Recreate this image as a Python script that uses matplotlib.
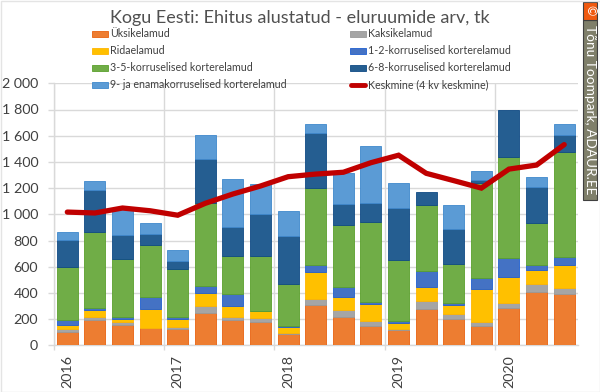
import numpy as np
import matplotlib.pyplot as plt
from matplotlib.patches import Rectangle

W, H = 600, 392

year_labels = ["2016", "2017", "2018", "2019", "2020"]
quarters_per_year = 4

yksik = [102, 196, 153, 132, 122, 247, 191, 181, 84, 308, 214, 148, 117, 277, 201, 148, 287, 405, 394]
kaksik = [23, 18, 25, 3, 18, 53, 23, 30, 10, 43, 56, 35, 5, 61, 41, 30, 36, 63, 46]
rida = [28, 58, 23, 140, 61, 102, 86, 51, 46, 209, 99, 133, 48, 107, 66, 249, 199, 107, 171]
k12 = [40, 10, 13, 97, 13, 51, 92, 1, 8, 51, 76, 15, 13, 122, 15, 87, 147, 36, 61]
k35 = [407, 583, 442, 396, 369, 636, 290, 419, 320, 590, 476, 610, 468, 504, 300, 722, 768, 322, 806]
k68 = [204, 320, 184, 82, 63, 333, 224, 323, 367, 419, 155, 145, 397, 99, 265, 23, 359, 278, 127]
k9 = [59, 69, 193, 84, 82, 182, 363, 224, 193, 69, 242, 435, 191, 0, 181, 72, 0, 72, 84]
keskmine = [1017, 1010, 1048, 1027, 993, 1084, 1155, 1216, 1287, 1307, 1321, 1394, 1451, 1313, 1257, 1200, 1345, 1376, 1532]

series = [
    ("Üksikelamud", yksik, "#ED7D31", "#E8620F"),
    ("Kaksikelamud", kaksik, "#A5A5A5", "#999999"),
    ("Ridaelamud", rida, "#FFC000", "#FFB400"),
    ("1-2-korruselised korterelamud", k12, "#4472C4", "#1F5FD0"),
    ("3-5-korruselised korterelamud", k35, "#70AD47", "#5AA02C"),
    ("6-8-korruselised korterelamud", k68, "#255E91", "#0F4A85"),
    ("9- ja enamakorruselised korterelamud", k9, "#5B9BD5", "#3F88CC"),
]

plt.rcParams['font.family'] = ['Lato', 'DejaVu Sans']
text_col = "#404040"

fig = plt.figure(figsize=(W / 100, H / 100), dpi=100, facecolor="#FFFFFF")
ax = fig.add_axes([53.5 / W, 1 - 345.3 / H, (578 - 53.5) / W, (345.3 - 83.3) / H])

x = np.arange(len(yksik))
bottom = np.zeros(len(yksik))
for name, vals, col, edge in series:
    nonzero = np.array(vals) > 0
    ax.bar(x[nonzero], np.array(vals)[nonzero], 0.76, bottom=bottom[nonzero], color=col, edgecolor=edge,
           linewidth=0.6, zorder=3)
    bottom = bottom + np.array(vals)
ax.plot(x, keskmine, color="#C00000", lw=3.8, solid_capstyle="round", solid_joinstyle="miter", zorder=4)

ax.set_xlim(-0.5, len(yksik) - 0.5)
ax.set_ylim(0, 2000)
ax.set_yticks(range(0, 2001, 200))
ax.set_yticklabels(["0", "200", "400", "600", "800", "1 000", "1 200", "1 400", "1 600", "1 800", "2 000"],
                   fontsize=10.3, color=text_col)
year_pos = np.arange(len(year_labels)) * quarters_per_year - 0.5
ax.set_xticks(year_pos)
ax.set_xticklabels([])
ax.set_xticks(year_pos + 0.5, minor=True)
ax.set_xticklabels(year_labels, minor=True, rotation=90, fontsize=10.3, color=text_col, ha="center", va="top")
ax.tick_params(axis="y", length=4, color="#D9D9D9", width=1, pad=7)
ax.tick_params(axis="x", which="major", length=3.6, color="#D9D9D9", width=1)
ax.tick_params(axis="x", which="minor", length=0, pad=7)
ax.grid(color="#D9D9D9", lw=1, zorder=0)
ax.set_axisbelow(True)
for s in ["top", "right"]:
    ax.spines[s].set_visible(False)
for s in ["left", "bottom"]:
    ax.spines[s].set_color("#D9D9D9")
    ax.spines[s].set_linewidth(1)

fig.text(300 / W, 1 - 17.5 / H, "Kogu Eesti: Ehitus alustatud - eluruumide arv, tk", fontsize=13,
         color="#505050", ha="center", va="center")

# legend: kaks tulpa, käsitsi paigutatud
leg_rows = [33.5, 50.5, 67.5, 85]
leg_left = [92, 350]
for i, (name, vals, col, edge) in enumerate(series):
    lx = leg_left[i % 2]
    ly = leg_rows[i // 2]
    fig.patches.append(Rectangle((lx / W, 1 - (ly + 3) / H), 16 / W, 6 / H, transform=fig.transFigure,
                                 facecolor=col, edgecolor=edge, lw=0.6))
    fig.text((lx + 18) / W, 1 - ly / H, name, fontsize=7.7, color=text_col, va="center")
fig.add_artist(plt.Line2D([351 / W, 365 / W], [1 - 85 / H, 1 - 85 / H], color="#C00000", lw=3.5,
                          solid_capstyle="round"))
fig.text(368 / W, 1 - 85 / H, "Keskmine (4 kv keskmine)", fontsize=7.7, color=text_col, va="center")

# autori riba paremal
fig.patches.append(Rectangle((583 / W, 1 - 200 / H), 14 / W, 180 / H, transform=fig.transFigure,
                             facecolor="#7F7F6A", edgecolor="#404040", lw=0.8))
fig.patches.append(Rectangle((583 / W, 1 - 20 / H), 14 / W, 18 / H, transform=fig.transFigure,
                             facecolor="#F05A10", edgecolor="#404040", lw=0.8))
fig.text(590 / W, 1 - 10.5 / H, "©", fontsize=9, color="#FFFFFF", ha="center", va="center", rotation=270)
fig.text(590 / W, 1 - 110 / H, "Tõnu Toompark, ADAUR.EE", fontsize=9.8, color="#FFFFFF",
         ha="center", va="center", rotation=270)

# diagrammi raam
fig.patches.append(Rectangle((0.5 / W, 0.5 / H), 599 / W, 391 / H, transform=fig.transFigure,
                             facecolor="none", edgecolor="#E4E4E4", lw=1))

fig.savefig("out.png", dpi=100, facecolor=fig.get_facecolor())
